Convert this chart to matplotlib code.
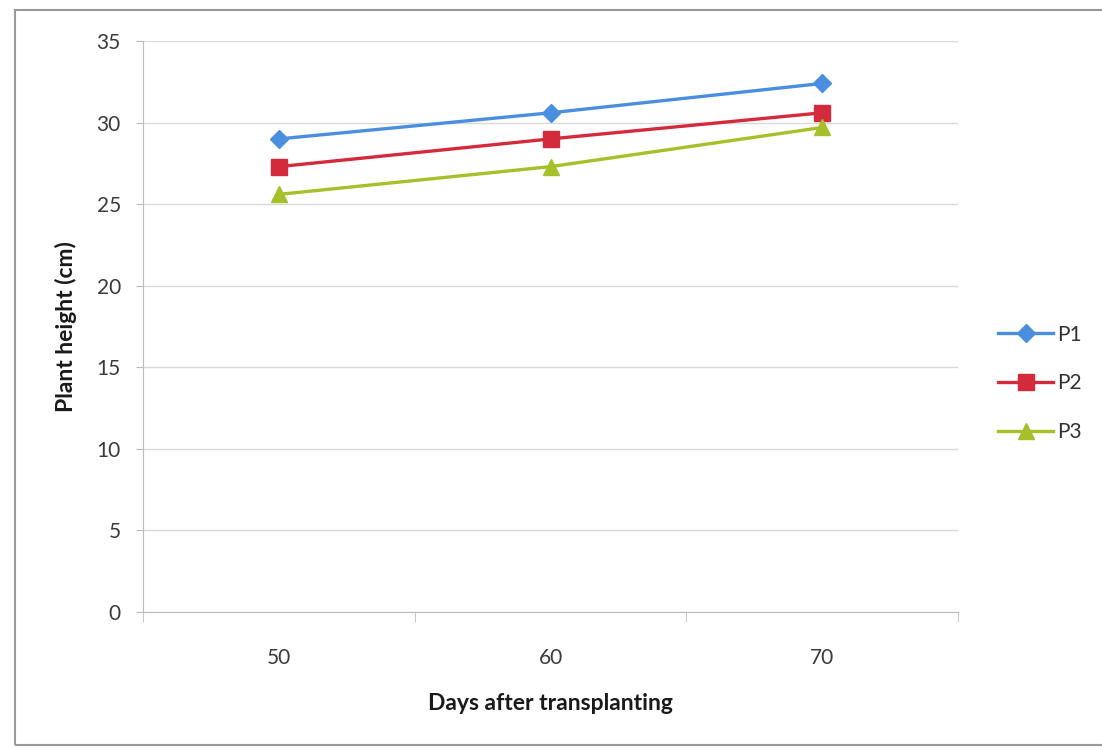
import matplotlib.pyplot as plt
from matplotlib.patches import Rectangle

days = ["50", "60", "70"]
p1 = [29.0, 30.6, 32.4]
p2 = [27.3, 29.0, 30.6]
p3 = [25.6, 27.3, 29.7]

plt.rcParams['font.family'] = ['Lato', 'DejaVu Sans']

fig = plt.figure(figsize=(11.02, 7.5), dpi=100)
ax = fig.add_axes([0.1298, 0.184, 0.7395, 0.7613])

x = range(len(days))
ax.plot(x, p1, color="#4a8ee0", lw=2.4, marker="D", ms=9, label="P1")
ax.plot(x, p2, color="#d42b3c", lw=2.4, marker="s", ms=11, label="P2")
ax.plot(x, p3, color="#a6c02a", lw=2.4, marker="^", ms=11, label="P3")

ax.set_xlim(-0.5, 2.5)
ax.set_ylim(0, 35)
ax.set_yticks(range(0, 36, 5))
ax.set_xticks(x)
ax.set_xticklabels(days)
ax.set_xticks([-0.5, 0.5, 1.5, 2.5], minor=True)
ax.tick_params(axis="x", which="major", length=0, pad=26, labelsize=15, labelcolor="#3a3a3a")
ax.tick_params(axis="x", which="minor", length=7, color="#bbbbbb")
ax.tick_params(axis="y", length=5, color="#bbbbbb", pad=11, labelsize=15, labelcolor="#3a3a3a")

ax.grid(axis="y", color="#d9d9d9", lw=1)
ax.set_axisbelow(True)
for s in ["top", "right"]:
    ax.spines[s].set_visible(False)
ax.spines["left"].set_color("#bbbbbb")
ax.spines["bottom"].set_color("#bbbbbb")

ax.set_xlabel("Days after transplanting", fontsize=16.5, fontweight="bold", labelpad=18, color="#1a1a1a")
ax.set_ylabel("Plant height (cm)", fontsize=16.5, fontweight="bold", labelpad=14, color="#1a1a1a")

leg = fig.legend(loc="center left", bbox_to_anchor=(0.889, 0.489), frameon=False,
                 fontsize=15, handlelength=2.6, labelspacing=1.37, handletextpad=0.2)
for t in leg.get_texts():
    t.set_color("#333333")

fig.patches.append(Rectangle((0.014, 0.007), 1.2, 0.98, transform=fig.transFigure,
                             fill=False, edgecolor="#999999", lw=1.5))

fig.savefig("out.png", dpi=100)
